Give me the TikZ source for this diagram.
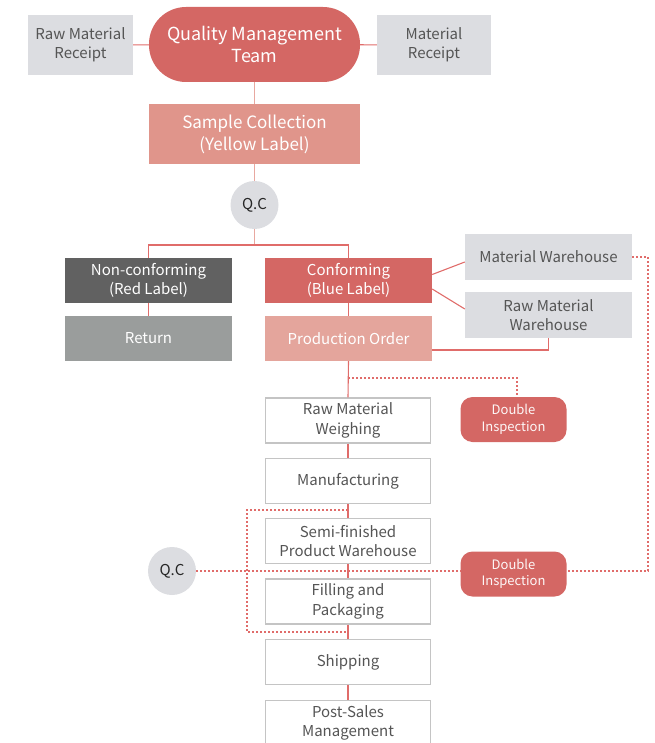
\documentclass[tikz,border=0pt]{standalone}
\usepackage{fontspec}
\setmainfont{Noto Sans CJK SC}
\definecolor{qred}{HTML}{D46764}
\definecolor{qsample}{HTML}{E0958B}
\definecolor{qorder}{HTML}{E4A59C}
\definecolor{qlight}{HTML}{DCDDE1}
\definecolor{qdark}{HTML}{616161}
\definecolor{qmid}{HTML}{9A9D9C}
\definecolor{qtext}{HTML}{555555}
\definecolor{qline}{HTML}{E06C6A}
\definecolor{qpink}{HTML}{E8A8A0}
\definecolor{qborder}{HTML}{C4C4C4}
\tikzset{
  base/.style={inner sep=0pt, align=center, font=\fontsize{15}{19.5}\selectfont},
  graybox/.style={base, fill=qlight, text=qtext, minimum width=105pt, minimum height=60pt},
  wbox/.style={base, fill=qlight, text=qtext, minimum width=167pt, minimum height=46pt},
  colbox/.style={base, text=white, minimum width=167pt, minimum height=45pt},
  stepbox/.style={base, fill=white, draw=qborder, line width=1.2pt, text=qtext, minimum width=165pt, minimum height=45pt},
  dibox/.style={base, fill=qred, text=white!95!qred, rounded corners=12pt, minimum width=106pt, minimum height=45pt, font=\fontsize{13}{16.5}\selectfont},
  qcnode/.style={circle, fill=qlight, text=black!85, minimum size=48pt, inner sep=0pt, font=\fontsize{15}{18}\selectfont},
  conn/.style={draw=qline, line width=1.1pt},
  pconn/.style={draw=qpink, line width=1.3pt},
  dotline/.style={draw=qline, line width=1.1pt, dash pattern=on 2pt off 2pt}
}
\begin{document}
\begin{tikzpicture}[x=1pt, y=-1pt]
\useasboundingbox (0,0) rectangle (654,743);
\begin{scope}
\clip (0,0) rectangle (654,743);
% top row
\node[graybox] (rmr) at (80.5,45) {Raw Material\\Receipt};
\node[base, fill=qred, text=white, minimum width=211pt, minimum height=75pt, rounded corners=37pt, font=\fontsize{18}{22}\selectfont] (qmt) at (254.5,44.5) {Quality Management\\Team};
\node[graybox, minimum width=114pt] (mr) at (434,45) {Material\\Receipt};
\node[base, fill=qsample, text=white, minimum width=211pt, minimum height=60pt, font=\fontsize{17}{22}\selectfont] (sc) at (254.5,134) {Sample Collection\\(Yellow Label)};
\node[qcnode] (qc1) at (254.5,205) {Q.C};
% second level
\node[colbox, fill=qdark] (nc) at (148.5,280.5) {Non-conforming\\(Red Label)};
\node[colbox, fill=qmid] (ret) at (148.5,338.5) {Return};
\node[colbox, fill=qred] (conf) at (348.5,280.5) {Conforming\\(Blue Label)};
\node[colbox, fill=qorder] (po) at (348.5,338.5) {Production Order};
\node[wbox] (mw) at (548.5,257) {Material Warehouse};
\node[wbox] (rmw) at (548.5,315) {Raw Material\\Warehouse};
% process chain
\node[stepbox] (rmweigh) at (348,420.5) {Raw Material\\Weighing};
\node[stepbox] (manu) at (348,481) {Manufacturing};
\node[stepbox] (sfpw) at (348,541) {Semi-finished\\Product Warehouse};
\node[stepbox] (fp) at (348,601.5) {Filling and\\Packaging};
\node[stepbox] (ship) at (348,662) {Shipping};
\node[stepbox] (psm) at (348,723) {Post-Sales\\Management};
\node[dibox] (di1) at (513.5,419.5) {Double\\Inspection};
\node[dibox] (di2) at (513.5,574) {Double\\Inspection};
\node[qcnode] (qc2) at (172,571) {Q.C};
% connectors
\draw[conn] (rmr) -- (qmt);
\draw[conn] (qmt) -- (mr);
\draw[pconn] (qmt) -- (sc);
\draw[pconn] (sc) -- (qc1);
\coordinate (j1) at (254.5,245);
\draw[pconn] (qc1) -- (j1);
\draw[conn] (j1) -| (nc.north);
\draw[conn] (j1) -| (conf.north);
\draw[conn] (nc) -- (ret);
\draw[conn] (conf) -- (po);
\draw[conn] ([yshift=6pt]conf.east) -- ([yshift=-5pt]mw.west);
\draw[conn] ([yshift=-8.5pt]conf.east) -- ([yshift=6pt]rmw.west);
\draw[conn] ([yshift=-11.5pt]po.east) -| (rmw.south);
\draw[conn] (po.south) -- (rmweigh.north);
\draw[conn] (rmweigh) -- (manu);
\draw[conn] (manu) -- (sfpw);
\draw[conn] (sfpw) -- (fp);
\draw[conn] (fp) -- (ship);
\draw[conn] (ship) -- (psm);
% dotted connectors
\coordinate (d1) at (348,378);
\draw[dotline] (d1) -| ([xshift=3.5pt]di1.north);
\coordinate (c1) at (648,571);
\draw[dotline] (mw.east) -| (c1) -- (di2.east |- c1);
\draw[dotline] (qc2.east) -- (di2.west |- qc2);
\coordinate (r1) at (348,510);
\coordinate (r2) at (348,632);
\draw[dotline] (r1) -- (247,510) -- (247,632) -- (r2);
\end{scope}
\end{tikzpicture}
\end{document}
